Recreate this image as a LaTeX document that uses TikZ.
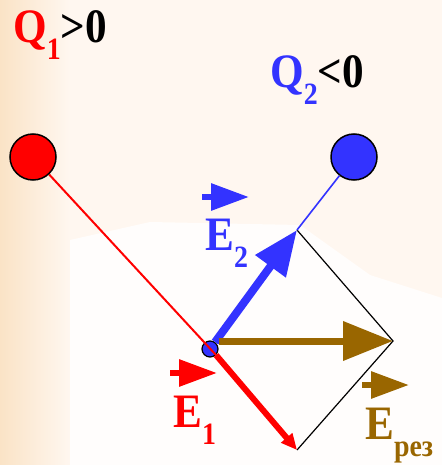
\documentclass[tikz,border=0pt]{standalone}
\usepackage{fontspec}
\setmainfont{Liberation Serif}[FakeStretch=0.9]
\usepackage{tikz}
\usetikzlibrary{arrows.meta}
\definecolor{ChargeRed}{RGB}{255, 0, 0}
\definecolor{ChargeBlue}{RGB}{51, 51, 255}
\definecolor{ResBrown}{RGB}{153, 102, 0}
\definecolor{Cream}{RGB}{255, 247, 240}
\definecolor{Tan}{RGB}{250, 227, 198}
\newcommand{\lowidx}[1]{\raisebox{-17pt}{\fontsize{31}{31}\selectfont #1}}

\begin{document}
\begin{tikzpicture}[x=1pt, y=-1pt,
    charge/.style={circle, draw=black, line width=1.5pt, minimum size=46pt, inner sep=0pt},
    lbl/.style={anchor=base west, inner sep=0pt, font=\fontsize{48}{48}\selectfont\bfseries},
    vecmark/.style={line width=6pt, -{Triangle[length=38pt, width=26pt]}}]
      \useasboundingbox (0,0) rectangle (442,465);

      % Background
      \fill[Cream] (0,0) rectangle (442,465);
      \shade[left color=Tan, right color=Cream] (0,0) rectangle (70,465);
      \fill[white, opacity=0.8] (70,300) -- (70,240) -- (150,222) -- (300,225)
        -- (370,275) -- (442,298) -- (442,465) -- (70,465) -- cycle;

      % Charges and field point
      \node[charge, fill=ChargeRed] (q1) at (33,157) {};
      \node[charge, fill=ChargeBlue] (q2) at (354,157) {};
      \node[circle, draw=black, line width=1.2pt, fill=ChargeBlue,
            minimum size=16pt, inner sep=0pt] (p) at (210,349) {};

      % Vector tips
      \coordinate (e2tip) at (297,230);
      \coordinate (e1tip) at (297,450);
      \coordinate (sumtip) at (393,341);

      % Parallelogram
      \draw[line width=1.2pt] (e2tip) -- (sumtip) -- (e1tip);

      % Field vectors
      \draw[ChargeBlue, line width=1.6pt] (q2) -- (e2tip);
      \draw[ChargeBlue, line width=8pt, -{Triangle[length=45pt, width=36pt]}] (p) -- (e2tip);
      \draw[ChargeRed, line width=2pt] (q1) -- (p.south east);
      \draw[ResBrown, line width=7pt, -{Triangle[length=50pt, width=38pt]}] (sumtip -| p.east) -- (sumtip);
      \draw[ChargeRed, line width=6pt, -{Triangle[length=16pt, width=14pt]}] (p.south east) -- (e1tip);

      % Labels
      \node[lbl] (lq1) at (13,43) {\color{ChargeRed}Q\lowidx{1}\color{black}>0};
      \node[lbl] (lq2) at (270,88) {\color{ChargeBlue}Q\lowidx{2}\color{black}<0};
      \node[lbl, text=ChargeBlue] (le2) at (205,250) {E\lowidx{2}};
      \node[lbl, text=ChargeRed] (le1) at (173,427) {E\lowidx{1}};
      \node[lbl, text=ResBrown] (leres) at (365,439) {E\lowidx{рез}};

      % Vector marks
      \draw[vecmark, ChargeBlue] ([shift={(-3,-53)}]le2.base west) -- ++(47,0);
      \draw[vecmark, ChargeRed] ([shift={(-3,-54)}]le1.base west) -- ++(47,0);
      \draw[vecmark, ResBrown] ([shift={(-3,-54)}]leres.base west) -- ++(47,0);
    \end{tikzpicture}
\end{document}
